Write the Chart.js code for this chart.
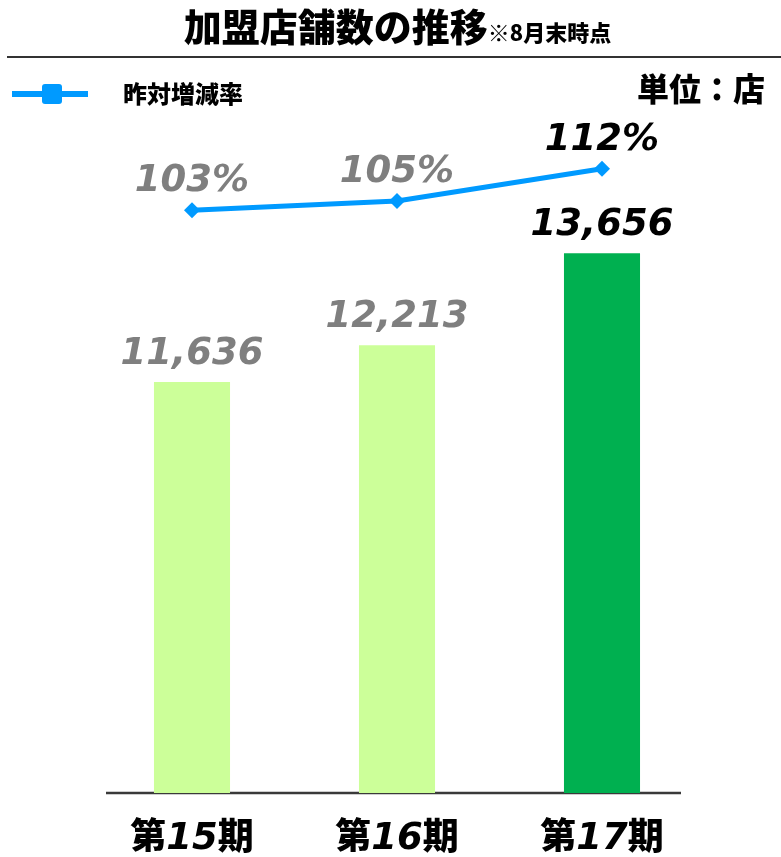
<!DOCTYPE html>
<html>
<head>
<meta charset="utf-8">
<script src="https://cdn.jsdelivr.net/npm/chart.js@4.4.1/dist/chart.umd.min.js"></script>
<style>
html,body{margin:0;padding:0;background:#fff;}
#wrap{position:relative;width:781px;height:857px;overflow:hidden;background:#fff;}
#c{position:absolute;left:0;top:0;}
.jp{font-family:"Noto Sans CJK JP","Noto Sans CJK SC",sans-serif;font-weight:900;color:#000;white-space:nowrap;}
#title{position:absolute;left:7px;width:781px;top:6px;text-align:center;font-size:38px;line-height:38px;}
#title small{font-size:22px;}
#rule{position:absolute;left:7px;right:0;top:56px;height:2px;background:#333;}
#legLine{position:absolute;left:12px;top:91px;width:76px;height:6px;background:#009AFF;}
#legBox{position:absolute;left:42px;top:84px;width:20px;height:20px;border-radius:3px;background:#009AFF;}
#legText{position:absolute;left:123px;top:80px;font-size:24px;line-height:26px;}
#unit{position:absolute;left:637px;top:69px;font-size:32px;line-height:36px;}
</style>
</head>
<body>
<div id="wrap">
  <canvas id="c" width="781" height="857"></canvas>
  <div id="title" class="jp">加盟店舗数の推移<small>※8月末時点</small></div>
  <div id="rule"></div>
  <div id="legLine"></div><div id="legBox"></div>
  <div id="legText" class="jp">昨対増減率</div>
  <div id="unit" class="jp">単位：店</div>
</div>
<script>
// ---- data ----
const categories = ['第15期', '第16期', '第17期'];
const periodPrefix = '第';
const periodNumbers = ['15', '16', '17'];
const periodSuffix = '期';
const storeCounts = [11636, 12213, 13656];
const yoyRates = [103, 105, 112];

// ---- styles ----
const barColors = ['#CCFF99', '#CCFF99', '#00B050'];
const labelColors = ['#7F7F7F', '#7F7F7F', '#000000'];
const lineColor = '#009AFF';
const numFont = '"DejaVu Sans", Verdana, sans-serif';
const jpFont = '"Noto Sans CJK JP", "Noto Sans CJK SC", sans-serif';

const labelPlugin = {
  id: 'labels',
  beforeDatasetsDraw(chart) {
    const ctx = chart.ctx, a = chart.chartArea;
    ctx.save();
    ctx.strokeStyle = '#3A3A3A';
    ctx.lineWidth = 2.5;
    ctx.beginPath();
    ctx.moveTo(a.left + 16.5, a.bottom);
    ctx.lineTo(a.right - 23.5, a.bottom);
    ctx.stroke();
    ctx.restore();
  },
  afterDatasetsDraw(chart) {
    const ctx = chart.ctx;
    const barMeta = chart.getDatasetMeta(0);
    const lineMeta = chart.getDatasetMeta(1);
    ctx.save();
    ctx.textAlign = 'center';
    ctx.textBaseline = 'alphabetic';
    ctx.font = 'italic bold 37px ' + numFont;
    barMeta.data.forEach((el, i) => {
      ctx.fillStyle = labelColors[i];
      ctx.fillText(storeCounts[i].toLocaleString('en-US'), el.x, el.y - 18);
    });
    lineMeta.data.forEach((el, i) => {
      ctx.fillStyle = labelColors[i];
      ctx.fillText(yoyRates[i] + '%', el.x, el.y - 19);
    });
    // category labels: 第 + italic number + 期
    const xs = chart.scales.x;
    const baseY = chart.chartArea.bottom + 56;
    ctx.textAlign = 'left';
    ctx.fillStyle = '#000';
    categories.forEach((c, i) => {
      const cx = xs.getPixelForValue(i);
      const jf = '900 36px ' + jpFont;
      const nf = 'italic bold 37px ' + numFont;
      ctx.font = jf; const w1 = ctx.measureText(periodPrefix).width;
      const w3 = ctx.measureText(periodSuffix).width;
      ctx.font = nf; const w2 = ctx.measureText(periodNumbers[i]).width;
      let x = cx - (w1 + w2 + w3) / 2;
      ctx.font = jf; ctx.fillText(periodPrefix, x, baseY); x += w1;
      ctx.font = nf; ctx.fillText(periodNumbers[i], x, baseY); x += w2;
      ctx.font = jf; ctx.fillText(periodSuffix, x, baseY);
    });
    ctx.restore();
  }
};

new Chart(document.getElementById('c'), {
  data: {
    labels: categories,
    datasets: [
      {
        type: 'bar',
        label: '加盟店舗数',
        data: storeCounts,
        backgroundColor: barColors,
        borderWidth: 0,
        categoryPercentage: 1,
        barPercentage: 0.371,
        yAxisID: 'y',
        order: 2
      },
      {
        type: 'line',
        label: '昨対増減率',
        data: yoyRates,
        borderColor: lineColor,
        backgroundColor: lineColor,
        borderWidth: 5,
        pointStyle: 'rectRot',
        pointRadius: 8,
        pointBorderWidth: 0,
        pointBackgroundColor: lineColor,
        tension: 0,
        yAxisID: 'y1',
        order: 1
      }
    ]
  },
  options: {
    responsive: false,
    animation: false,
    layout: { padding: { left: 89.5, right: 76.5, top: 130, bottom: 64 } },
    plugins: { legend: { display: false }, tooltip: { enabled: false } },
    scales: {
      x: { display: false, offset: true },
      y: { display: false, min: 5200, max: 15585 },
      y1: { display: false, position: 'right', min: -23.5, max: 120.4 }
    }
  },
  plugins: [labelPlugin]
});
</script>
</body>
</html>
